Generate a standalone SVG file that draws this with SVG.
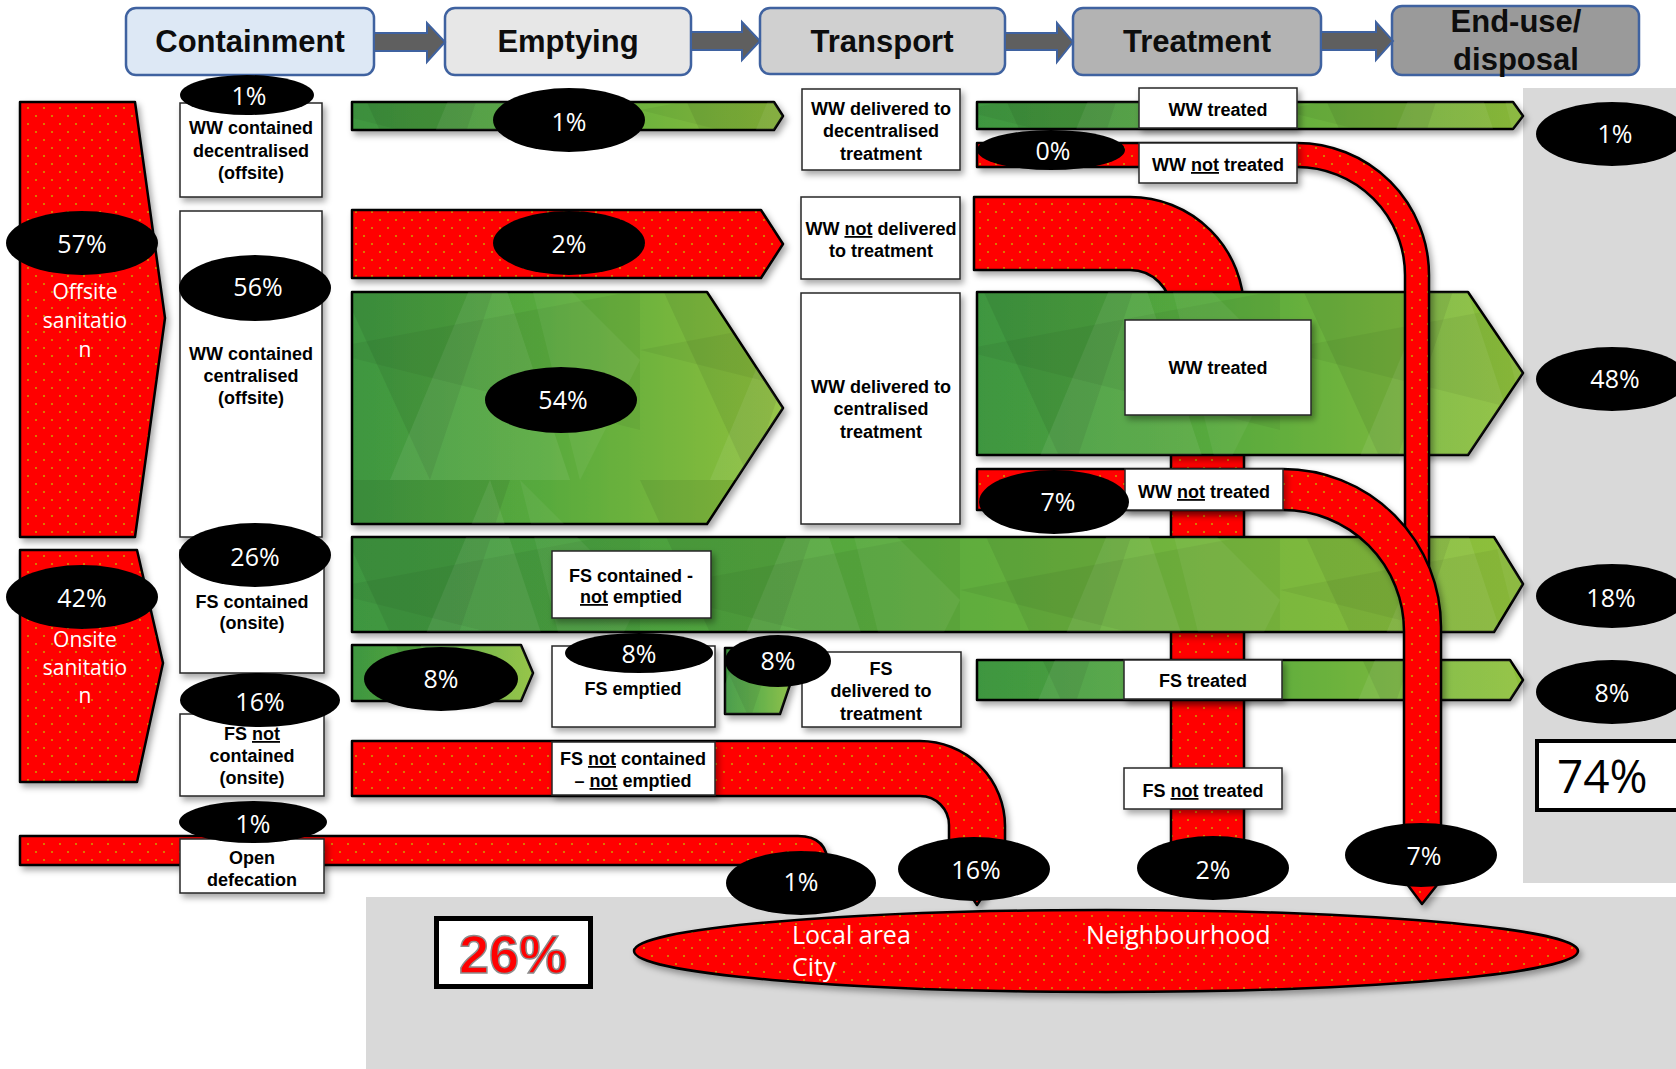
<svg xmlns="http://www.w3.org/2000/svg" width="1676" height="1069" viewBox="0 0 1676 1069">
<defs>
 <pattern id="dots" width="16" height="16" patternUnits="userSpaceOnUse">
  <rect width="16" height="16" fill="#ff0000"/>
  <circle cx="4" cy="4" r="1" fill="#c9a200"/>
  <circle cx="12" cy="12" r="1" fill="#c9a200"/>
 </pattern>
 <linearGradient id="grn" x1="0" y1="0" x2="1" y2="0">
  <stop offset="0" stop-color="#3e963f"/>
  <stop offset="0.45" stop-color="#58aa3e"/>
  <stop offset="1" stop-color="#8fc03b"/>
 </linearGradient>
 <pattern id="facet" width="320" height="240" patternUnits="userSpaceOnUse">
  <polygon points="0,0 110,240 190,0" fill="#000" opacity="0.07"/>
  <polygon points="70,240 170,0 250,240" fill="#fff" opacity="0.07"/>
  <polygon points="0,110 320,50 320,190" fill="#000" opacity="0.05"/>
  <polygon points="200,0 320,120 260,240" fill="#fff" opacity="0.05"/>
 </pattern>
 <filter id="sh" x="-10%" y="-10%" width="130%" height="140%">
  <feDropShadow dx="3" dy="4" stdDeviation="3" flood-color="#000" flood-opacity="0.35"/>
 </filter>
 <polygon id="g1" points="352,102 774,102 783,116 774,130 352,130"/>
 <polygon id="g2" points="352,292 707,292 783,408 707,524 352,524"/>
 <polygon id="g3" points="352,537 1494,537 1523,584 1494,632 352,632"/>
 <polygon id="g4" points="352,645 521,645 533,673 521,701 352,701"/>
 <polygon id="g5" points="725,648 792,648 797,664 780,714 725,714"/>
 <polygon id="g6" points="977,102 1513,102 1523,116 1513,129 977,129"/>
 <polygon id="g7" points="977,292 1468,292 1523,373 1468,455 977,455"/>
 <polygon id="g8" points="977,660 1510,660 1523,680 1510,700 977,700"/>
 <style>
  .hdr{stroke:#3f62a0;stroke-width:2.5}
  .arr{fill:#5f5f5f;stroke:#3f62a0;stroke-width:2}
  .ht{font-family:"Liberation Sans",Arial,sans-serif;font-weight:bold;font-size:31px;text-anchor:middle;fill:#0d0d0d}
  .red{fill:url(#dots);stroke:#000;stroke-width:2.5;stroke-linejoin:round}
  .grn{fill:url(#grn);stroke:#000;stroke-width:2.5;stroke-linejoin:round}
  .fac{fill:url(#facet);stroke:none}
  .box{fill:#fff;stroke:#262626;stroke-width:1.5}
  .lb{font-family:"Liberation Sans",Arial,sans-serif;font-weight:bold;font-size:18px;text-anchor:middle;fill:#000}
  .pe{fill:#000}
  .pt{font-family:"Open Sans",sans-serif;font-size:25px;fill:#fff;text-anchor:middle}
  .wt{font-family:"Open Sans",sans-serif;font-size:21px;fill:#fff;text-anchor:middle}
  .bt{font-family:"Open Sans",sans-serif;font-size:25px;fill:#fff}
  .u{text-decoration:underline}
 </style>
</defs>

<g id="background">
 <rect x="1523" y="88" width="153" height="795" fill="#d9d9d9"/>
 <rect x="366" y="897" width="1310" height="172" fill="#d9d9d9"/>
</g>

<g id="headers">
 <g id="h-containment"><rect class="hdr" x="126" y="8" width="248" height="67" rx="10" fill="#dde8f5"/><text class="ht" x="250" y="52">Containment</text></g>
 <g id="h-emptying"><rect class="hdr" x="445" y="8" width="246" height="67" rx="10" fill="#e7e7e7"/><text class="ht" x="568" y="52">Emptying</text></g>
 <g id="h-transport"><rect class="hdr" x="760" y="8" width="245" height="66" rx="10" fill="#d0d0d0"/><text class="ht" x="882" y="52">Transport</text></g>
 <g id="h-treatment"><rect class="hdr" x="1073" y="8" width="248" height="67" rx="10" fill="#b3b3b3"/><text class="ht" x="1197" y="52">Treatment</text></g>
 <g id="h-enduse"><rect class="hdr" x="1392" y="6" width="247" height="69" rx="10" fill="#9a9a9a"/><text class="ht" x="1516" y="32">End-use/</text><text class="ht" x="1516" y="70">disposal</text></g>
</g>

<g id="connectors">
 <polygon class="arr" points="374,33 427,33 427,23 445,42 427,62 427,51 374,51"/>
 <polygon class="arr" points="691,32 742,32 742,22 760,41 742,60 742,50 691,50"/>
 <polygon class="arr" points="1005,33 1057,33 1057,23 1073,42 1057,62 1057,50 1005,50"/>
 <polygon class="arr" points="1321,32 1376,32 1376,22 1393,41 1376,60 1376,50 1321,50"/>
</g>

<g id="flows-red-under" filter="url(#sh)">
 <polygon id="offsite" class="red" points="20,102 135,102 165,318 135,537 20,537"/>
 <polygon id="onsite" class="red" points="20,550 137,550 163,663 137,782 20,782"/>
 <path id="od-flow" class="red" d="M20,836 H798 Q828,836 828,866 V885 H800 V865 H20 Z"/>
 <path id="ww-not-delivered-flow" class="red" d="M974,197 H1130 A114,114 0 0 1 1244,311 V880 H1171 V311 A41,41 0 0 0 1130,270 H974 Z"/>
 <path id="fs-not-contained-flow" class="red" d="M352,741 H920 A85,85 0 0 1 1005,826 V862 L977,905 L949,862 V825 A29,29 0 0 0 920,796 H352 Z"/>
 <polygon id="ww-2pct" class="red" points="352,210 761,210 783,244 761,278 352,278"/>
</g>

<g id="flows-green">
 <g filter="url(#sh)">
  <use href="#g1" class="grn"/><use href="#g2" class="grn"/><use href="#g3" class="grn"/><use href="#g4" class="grn"/>
  <use href="#g5" class="grn"/><use href="#g6" class="grn"/><use href="#g7" class="grn"/><use href="#g8" class="grn"/>
 </g>
 <use href="#g1" class="fac"/><use href="#g2" class="fac"/><use href="#g3" class="fac"/><use href="#g4" class="fac"/>
 <use href="#g5" class="fac"/><use href="#g6" class="fac"/><use href="#g7" class="fac"/><use href="#g8" class="fac"/>
</g>

<g id="flows-red-over" filter="url(#sh)">
 <path id="ww-not-treated-0" class="red" d="M977,143 H1297 A132,132 0 0 1 1429,275 V700 H1405 V275 A108,108 0 0 0 1297,167 H977 Z"/>
 <path id="ww-not-treated-7" class="red" d="M977,469 H1283 A158,158 0 0 1 1441,627 V880 L1422,904 L1404,880 V631 A121,121 0 0 0 1283,510 H977 Z"/>
</g>

<g id="labels">
 <g id="n-ww-dec"><rect class="box" filter="url(#sh)" x="180" y="103" width="142" height="94"/><text class="lb" x="251" y="134">WW contained</text><text class="lb" x="251" y="157">decentralised</text><text class="lb" x="251" y="179">(offsite)</text></g>
 <g id="n-ww-cen"><rect class="box" filter="url(#sh)" x="180" y="211" width="142" height="326"/><text class="lb" x="251" y="360">WW contained</text><text class="lb" x="251" y="382">centralised</text><text class="lb" x="251" y="404">(offsite)</text></g>
 <g id="n-fs-cont"><rect class="box" filter="url(#sh)" x="180" y="550" width="144" height="123"/><text class="lb" x="252" y="608">FS contained</text><text class="lb" x="252" y="629">(onsite)</text></g>
 <g id="n-fs-notcont"><rect class="box" filter="url(#sh)" x="180" y="714" width="144" height="82"/><text class="lb" x="252" y="740">FS <tspan class="u">not</tspan></text><text class="lb" x="252" y="762">contained</text><text class="lb" x="252" y="784">(onsite)</text></g>
 <g id="n-od"><rect class="box" filter="url(#sh)" x="180" y="839" width="144" height="54"/><text class="lb" x="252" y="864">Open</text><text class="lb" x="252" y="886">defecation</text></g>

 <g id="n-fs-notemptied"><rect class="box" filter="url(#sh)" x="552" y="551" width="159" height="67"/><text class="lb" x="631" y="582">FS contained -</text><text class="lb" x="631" y="603"><tspan class="u">not</tspan> emptied</text></g>
 <g id="n-fs-emptied"><rect class="box" filter="url(#sh)" x="552" y="646" width="163" height="81"/><text class="lb" x="633" y="695">FS emptied</text></g>
 <g id="n-fs-nc-ne"><rect class="box" filter="url(#sh)" x="552" y="742" width="163" height="53"/><text class="lb" x="633" y="765">FS <tspan class="u">not</tspan> contained</text><text class="lb" x="633" y="787">– <tspan class="u">not</tspan> emptied</text></g>

 <g id="n-ww-del-dec"><rect class="box" filter="url(#sh)" x="802" y="89" width="158" height="81"/><text class="lb" x="881" y="115">WW delivered to</text><text class="lb" x="881" y="137">decentralised</text><text class="lb" x="881" y="160">treatment</text></g>
 <g id="n-ww-notdel"><rect class="box" filter="url(#sh)" x="801" y="197" width="159" height="82"/><text class="lb" x="881" y="235">WW <tspan class="u">not</tspan> delivered</text><text class="lb" x="881" y="257">to treatment</text></g>
 <g id="n-ww-del-cen"><rect class="box" filter="url(#sh)" x="801" y="293" width="159" height="231"/><text class="lb" x="881" y="393">WW delivered to</text><text class="lb" x="881" y="415">centralised</text><text class="lb" x="881" y="438">treatment</text></g>
 <g id="n-fs-del"><rect class="box" filter="url(#sh)" x="802" y="652" width="159" height="75"/><text class="lb" x="881" y="675">FS</text><text class="lb" x="881" y="697">delivered to</text><text class="lb" x="881" y="720">treatment</text></g>

 <g id="n-ww-treated-dec"><rect class="box" filter="url(#sh)" x="1139" y="88" width="158" height="40"/><text class="lb" x="1218" y="116">WW treated</text></g>
 <g id="n-ww-nt-dec"><rect class="box" filter="url(#sh)" x="1139" y="143" width="158" height="40"/><text class="lb" x="1218" y="171">WW <tspan class="u">not</tspan> treated</text></g>
 <g id="n-ww-treated-cen"><rect class="box" filter="url(#sh)" x="1125" y="320" width="186" height="95"/><text class="lb" x="1218" y="374">WW treated</text></g>
 <g id="n-ww-nt-cen"><rect class="box" filter="url(#sh)" x="1125" y="469" width="158" height="41"/><text class="lb" x="1204" y="498">WW <tspan class="u">not</tspan> treated</text></g>
 <g id="n-fs-treated"><rect class="box" filter="url(#sh)" x="1124" y="660" width="158" height="39"/><text class="lb" x="1203" y="687">FS treated</text></g>
 <g id="n-fs-nt"><rect class="box" filter="url(#sh)" x="1124" y="768" width="158" height="41"/><text class="lb" x="1203" y="797">FS <tspan class="u">not</tspan> treated</text></g>
</g>

<g id="side-texts">
 <text class="wt" x="85" y="299">Offsite</text><text class="wt" x="85" y="328">sanitatio</text><text class="wt" x="85" y="357">n</text>
 <text class="wt" x="85" y="647">Onsite</text><text class="wt" x="85" y="675">sanitatio</text><text class="wt" x="85" y="703">n</text>
</g>

<g id="percentages">
 <ellipse class="pe" cx="82" cy="243" rx="76" ry="32"/><text class="pt" x="82" y="253">57%</text>
 <ellipse class="pe" cx="82" cy="597" rx="76" ry="32"/><text class="pt" x="82" y="607">42%</text>
 <ellipse class="pe" cx="247" cy="95" rx="67" ry="20"/><text class="pt" x="249" y="105">1%</text>
 <ellipse class="pe" cx="255" cy="288" rx="76" ry="33"/><text class="pt" x="258" y="296">56%</text>
 <ellipse class="pe" cx="255" cy="555" rx="76" ry="32"/><text class="pt" x="255" y="566">26%</text>
 <ellipse class="pe" cx="260" cy="700" rx="80" ry="27"/><text class="pt" x="260" y="711">16%</text>
 <ellipse class="pe" cx="253" cy="822" rx="74" ry="21"/><text class="pt" x="253" y="833">1%</text>
 <ellipse class="pe" cx="569" cy="120" rx="76" ry="32"/><text class="pt" x="569" y="131">1%</text>
 <ellipse class="pe" cx="569" cy="243" rx="76" ry="32"/><text class="pt" x="569" y="253">2%</text>
 <ellipse class="pe" cx="561" cy="400" rx="76" ry="33"/><text class="pt" x="563" y="409">54%</text>
 <ellipse class="pe" cx="441" cy="679" rx="77" ry="32"/><text class="pt" x="441" y="688">8%</text>
 <ellipse class="pe" cx="639" cy="653" rx="74" ry="20"/><text class="pt" x="639" y="663">8%</text>
 <ellipse class="pe" cx="778" cy="661" rx="53" ry="26"/><text class="pt" x="778" y="670">8%</text>
 <ellipse class="pe" cx="801" cy="883" rx="75" ry="32"/><text class="pt" x="801" y="891">1%</text>
 <ellipse class="pe" cx="974" cy="869" rx="76" ry="32"/><text class="pt" x="976" y="879">16%</text>
 <ellipse class="pe" cx="1051" cy="150" rx="74" ry="20"/><text class="pt" x="1053" y="160">0%</text>
 <ellipse class="pe" cx="1054" cy="502" rx="75" ry="32"/><text class="pt" x="1058" y="511">7%</text>
 <ellipse class="pe" cx="1213" cy="868" rx="76" ry="32"/><text class="pt" x="1213" y="879">2%</text>
 <ellipse class="pe" cx="1421" cy="855" rx="76" ry="32"/><text class="pt" x="1424" y="865">7%</text>
 <ellipse class="pe" cx="1612" cy="134" rx="76" ry="32"/><text class="pt" x="1615" y="143">1%</text>
 <ellipse class="pe" cx="1612" cy="379" rx="76" ry="32"/><text class="pt" x="1615" y="388">48%</text>
 <ellipse class="pe" cx="1612" cy="596" rx="76" ry="32"/><text class="pt" x="1611" y="607">18%</text>
 <ellipse class="pe" cx="1612" cy="692" rx="76" ry="32"/><text class="pt" x="1612" y="702">8%</text>
</g>

<g id="destination">
 <ellipse class="red" filter="url(#sh)" cx="1106" cy="951" rx="472" ry="41"/>
 <text class="bt" x="792" y="944">Local area</text>
 <text class="bt" x="792" y="976">City</text>
 <text class="bt" x="1086" y="944">Neighbourhood</text>
</g>

<g id="totals">
 <rect x="436.5" y="918.5" width="154" height="68" fill="#fff" stroke="#000" stroke-width="5"/>
 <text x="513" y="973" font-family="Liberation Sans, Arial, sans-serif" font-weight="bold" font-size="54" fill="#ff0000" stroke="#8c8c8c" stroke-width="1.5" text-anchor="middle">26%</text>
 <rect x="1537" y="741" width="150" height="69" fill="#fff" stroke="#000" stroke-width="4"/>
 <text x="1557" y="793" font-family="Open Sans, sans-serif" font-size="46" fill="#000">74%</text>
</g>
</svg>
